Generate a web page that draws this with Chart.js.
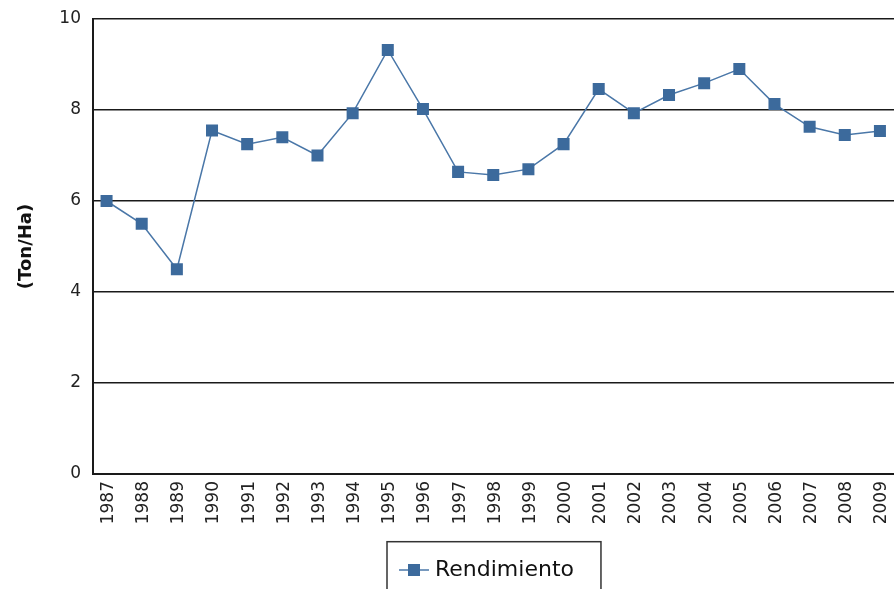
<!DOCTYPE html>
<html>
<head>
<meta charset="utf-8">
<script src="https://cdn.jsdelivr.net/npm/chart.js@4"></script>
<style>
html,body{margin:0;padding:0;background:#fff;overflow:hidden;}
#wrap{width:894px;height:589px;overflow:hidden;position:relative;}
canvas{display:block;}
</style>
</head>
<body>
<div id="wrap"><canvas id="c" width="894" height="591"></canvas></div>
<script>
const years = [1987,1988,1989,1990,1991,1992,1993,1994,1995,1996,1997,1998,1999,2000,2001,2002,2003,2004,2005,2006,2007,2008,2009];
const rendimiento = [6.0,5.5,4.5,7.55,7.25,7.4,7.0,7.93,9.32,8.02,6.64,6.57,6.7,7.25,8.46,7.93,8.33,8.59,8.9,8.13,7.63,7.45,7.54];
const yTicks = [0,2,4,6,8,10];
const seriesName = 'Rendimiento';
const yTitle = '(Ton/Ha)';

const lineColor = '#4a77a8';
const pointColor = '#3c6a9c';

// legend marker: short line with a square
const marker = document.createElement('canvas');
marker.width = 30; marker.height = 14;
(function(){
  const g = marker.getContext('2d');
  g.strokeStyle = lineColor; g.lineWidth = 1.5;
  g.beginPath(); g.moveTo(0,7); g.lineTo(30,7); g.stroke();
  g.fillStyle = pointColor; g.fillRect(9,1,12,12);
})();

const legendShift = {
  id: 'legendShift',
  afterLayout(chart){
    const lg = chart.legend;
    if (!lg || !lg.legendHitBoxes || !lg.legendHitBoxes.length) return;
    const hb = lg.legendHitBoxes[0];
    const cur = (lg.left + lg.right - hb.width) / 2;
    const dx = 404 - cur;
    lg.left += dx; lg.right += dx;
  }
};
const legendBorder = {
  id: 'legendBorder',
  afterDraw(chart){
    const lg = chart.legend;
    if (!lg || !lg.legendHitBoxes || !lg.legendHitBoxes.length) return;
    const hb = lg.legendHitBoxes[0];
    const ctx = chart.ctx;
    ctx.save();
    ctx.strokeStyle = '#333';
    ctx.lineWidth = 1.5;
    const l = hb.left - 17, t = hb.top - 17.3, r = hb.left + hb.width + 27, b = hb.top + hb.height + 20;
    ctx.strokeRect(l, t, r - l, b - t);
    ctx.restore();
  }
};

new Chart(document.getElementById('c'), {
  type: 'line',
  data: {
    datasets: [{
      label: seriesName,
      data: years.map((y, i) => ({x: y, y: rendimiento[i]})),
      borderColor: lineColor,
      borderWidth: 1.5,
      backgroundColor: pointColor,
      pointStyle: 'rect',
      pointRadius: 8.5,
      pointBackgroundColor: pointColor,
      pointBorderColor: pointColor,
      pointBorderWidth: 0,
      tension: 0,
      fill: false
    }]
  },
  options: {
    responsive: false,
    animation: false,
    devicePixelRatio: 1,
    layout: { autoPadding: false, padding: { top: 19, left: 0, right: 0, bottom: 0 } },
    scales: {
      x: {
        type: 'linear',
        min: 1986.6,
        max: 2009.4,
        grid: { display: false, drawTicks: false },
        border: { display: true, color: '#1a1a1a', width: 2 },
        ticks: {
          stepSize: 1,
          includeBounds: false,
          autoSkip: false,
          minRotation: 90,
          maxRotation: 90,
          padding: 7,
          labelOffset: 2,
          color: '#222',
          font: { family: 'DejaVu Sans', size: 17 },
          callback: v => String(v)
        },
        afterFit: s => { s.height = 75; s.paddingLeft = 0; s.paddingRight = 0; }
      },
      y: {
        min: 0,
        max: 10,
        afterBuildTicks: s => { s.ticks = yTicks.map(v => ({value: v})); },
        grid: { color: '#1a1a1a', lineWidth: 1.5, drawTicks: false },
        border: { display: true, color: '#1a1a1a', width: 2 },
        ticks: {
          padding: 11.5,
          color: '#222',
          font: { family: 'DejaVu Sans', size: 17 }
        },
        title: {
          display: true,
          text: yTitle,
          color: '#111',
          font: { family: 'DejaVu Sans', size: 18, weight: 'bold' },
          padding: { top: 16, bottom: 0 }
        },
        afterFit: s => { s.width = 92.5; s.paddingTop = 0; s.paddingBottom = 0; }
      }
    },
    plugins: {
      legend: {
        display: true,
        position: 'bottom',
        labels: {
          usePointStyle: true,
          pointStyle: marker,
          pointStyleWidth: 20,
          padding: 10,
          color: '#111',
          font: { family: 'DejaVu Sans', size: 22 }
        }
      },
      tooltip: { enabled: false }
    }
  },
  plugins: [legendShift, legendBorder]
});
</script>
</body>
</html>
